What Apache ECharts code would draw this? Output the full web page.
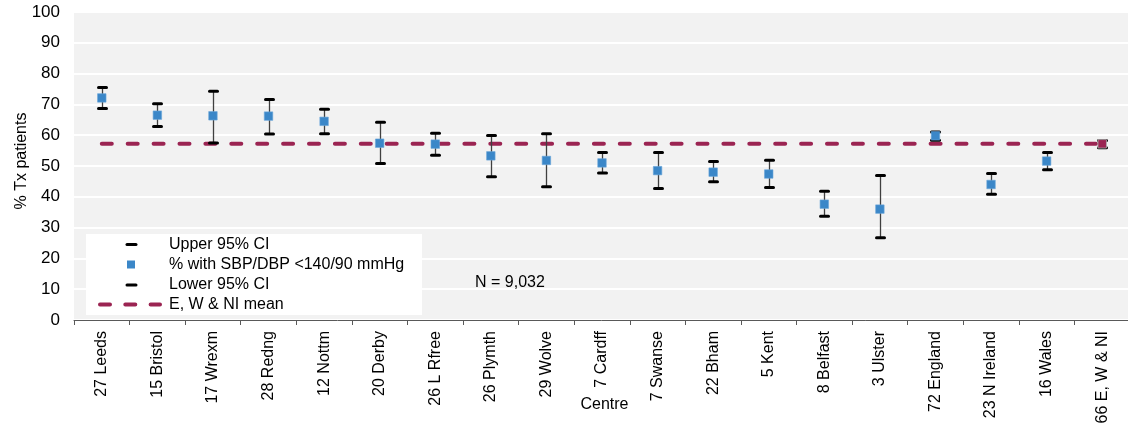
<!DOCTYPE html>
<html>
<head>
<meta charset="utf-8">
<script src="https://cdn.jsdelivr.net/npm/echarts@6/dist/echarts.min.js"></script>
<style>
html,body{margin:0;padding:0;background:#fff;}
#chart{width:1128px;height:424px;}
</style>
</head>
<body>
<div id="chart"></div>
<script>
var categories = ['27 Leeds','15 Bristol','17 Wrexm','28 Redng','12 Nottm','20 Derby','26 L Rfree','26 Plymth','29 Wolve','7 Cardff','7 Swanse','22 Bham','5 Kent','8 Belfast','3 Ulster','72 England','23 N Ireland','16 Wales','66 E, W & NI'];
var pctControlled = [72.1, 66.5, 66.3, 66.2, 64.5, 57.4, 57.1, 53.3, 51.8, 51.0, 48.5, 48.0, 47.4, 37.6, 36.0, 59.8, 44.0, 51.6, 57.2];
var upper95 = [75.5, 70.2, 74.3, 71.6, 68.4, 64.2, 60.6, 59.9, 60.5, 54.4, 54.4, 51.5, 51.9, 41.8, 46.9, 61.0, 47.6, 54.4, 58.3];
var lower95 = [68.7, 62.8, 57.5, 60.4, 60.5, 50.8, 53.5, 46.5, 43.3, 47.7, 42.7, 44.9, 43.0, 33.7, 26.7, 58.4, 40.8, 48.8, 55.9];
var meanLine = [57.2, 57.2, 57.2, 57.2, 57.2, 57.2, 57.2, 57.2, 57.2, 57.2, 57.2, 57.2, 57.2, 57.2, 57.2, 57.2, 57.2, 57.2, 57.2];
var yTicks = { min: 0, max: 100, interval: 10 };
var noteText = 'N = 9,032';

var BLUE = '#3b87c8';
var MAROON = '#9b2452';
var FONT = 'Liberation Sans';

var chart = echarts.init(document.getElementById('chart'), null, { renderer: 'canvas' });

var errData = categories.map(function (c, i) { return [i, lower95[i], upper95[i]]; });
var pointData = pctControlled.map(function (v, i) {
  if (i === pctControlled.length - 1) {
    return { value: v, itemStyle: { color: MAROON, borderColor: '#b0b0b0', borderWidth: 0.8 } };
  }
  return v;
});

var Z = 100;
var option = {
  animation: false,
  textStyle: { fontFamily: FONT },
  grid: {
    left: 74, top: 12, width: 1056, height: 308,
    outerBoundsMode: 'none',
    containLabel: false,
    show: true, backgroundColor: '#f2f2f2', borderWidth: 0
  },
  xAxis: {
    type: 'category',
    data: categories,
    boundaryGap: true,
    name: 'Centre',
    nameLocation: 'middle',
    nameGap: 77,
    nameMoveOverlap: false,
    nameTextStyle: { fontSize: 16, color: '#000', fontFamily: FONT, padding: [0, 0, 0, 5] },
    axisLine: { show: true, lineStyle: { color: '#595959', width: 1 } },
    axisTick: { show: true, alignWithLabel: false, length: 5, lineStyle: { color: '#595959' } },
    axisLabel: { interval: 0, rotate: 90, fontSize: 16, color: '#000', margin: 11, fontFamily: FONT, hideOverlap: false },
    splitLine: { show: false }
  },
  yAxis: {
    type: 'value',
    min: yTicks.min, max: yTicks.max, interval: yTicks.interval,
    name: '% Tx patients',
    nameLocation: 'middle',
    nameGap: 44,
    nameMoveOverlap: false,
    nameTextStyle: { fontSize: 16, color: '#000', fontFamily: FONT, padding: [0, 0, 0, 10] },
    axisLine: { show: false },
    axisTick: { show: false },
    axisLabel: { fontSize: 17, color: '#000', margin: 14, fontFamily: FONT },
    splitLine: { show: true, lineStyle: { color: '#ffffff', width: 2 } }
  },
  series: [
    {
      name: 'E, W & NI mean',
      type: 'line',
      data: meanLine,
      z: 2,
      symbol: 'none',
      silent: true,
      lineStyle: { color: MAROON, width: 4, type: [10, 15.9], cap: 'round', dashOffset: 0 }
    },
    {
      name: '95% CI',
      type: 'custom',
      z: 3,
      data: errData,
      encode: { x: 0, y: [1, 2] },
      renderItem: function (params, api) {
        var idx = api.value(0);
        var pHi = api.coord([idx, api.value(2)]);
        var pLo = api.coord([idx, api.value(1)]);
        var x = Math.round(pHi[0]) + 0.5;
        var hw = 4;
        return {
          type: 'group',
          children: [
            { type: 'line', shape: { x1: x, y1: pHi[1], x2: x, y2: pLo[1] }, style: { stroke: '#404040', lineWidth: 1.3 } },
            { type: 'line', shape: { x1: x - hw, y1: pHi[1], x2: x + hw, y2: pHi[1] }, style: { stroke: '#000', lineWidth: 3, lineCap: 'round' } },
            { type: 'line', shape: { x1: x - hw, y1: pLo[1], x2: x + hw, y2: pLo[1] }, style: { stroke: '#000', lineWidth: 3, lineCap: 'round' } }
          ]
        };
      }
    },
    {
      name: '% with SBP/DBP <140/90 mmHg',
      type: 'scatter',
      z: 4,
      data: pointData,
      symbol: 'rect',
      symbolSize: 8.5,
      itemStyle: { color: BLUE, borderColor: '#6aa6da', borderWidth: 0.6, opacity: 1 }
    }
  ],
  graphic: [
    { type: 'rect', z: Z, shape: { x: 86, y: 234, width: 336, height: 81 }, style: { fill: '#ffffff' } },
    { type: 'line', z: Z + 1, shape: { x1: 127, y1: 244.5, x2: 136, y2: 244.5 }, style: { stroke: '#000', lineWidth: 3, lineCap: 'round' } },
    { type: 'text', z: Z + 1, x: 169, y: 244.5, style: { text: 'Upper 95% CI', fontSize: 16, fontFamily: FONT, fill: '#000', verticalAlign: 'middle' } },
    { type: 'rect', z: Z + 1, shape: { x: 127, y: 260.5, width: 8, height: 8 }, style: { fill: BLUE } },
    { type: 'text', z: Z + 1, x: 169, y: 264.5, style: { text: '% with SBP/DBP <140/90 mmHg', fontSize: 16, fontFamily: FONT, fill: '#000', verticalAlign: 'middle' } },
    { type: 'line', z: Z + 1, shape: { x1: 127, y1: 285, x2: 136, y2: 285 }, style: { stroke: '#000', lineWidth: 3, lineCap: 'round' } },
    { type: 'text', z: Z + 1, x: 169, y: 285, style: { text: 'Lower 95% CI', fontSize: 16, fontFamily: FONT, fill: '#000', verticalAlign: 'middle' } },
    { type: 'line', z: Z + 1, shape: { x1: 100, y1: 304.5, x2: 160, y2: 304.5 }, style: { stroke: MAROON, lineWidth: 4, lineCap: 'round', lineDash: [10, 15.3] } },
    { type: 'text', z: Z + 1, x: 169, y: 304.5, style: { text: 'E, W & NI mean', fontSize: 16, fontFamily: FONT, fill: '#000', verticalAlign: 'middle' } },
    { type: 'text', z: Z + 1, x: 475, y: 283, style: { text: noteText, fontSize: 16, fontFamily: FONT, fill: '#000', verticalAlign: 'middle' } }
  ]
};
chart.setOption(option);
</script>
</body>
</html>
